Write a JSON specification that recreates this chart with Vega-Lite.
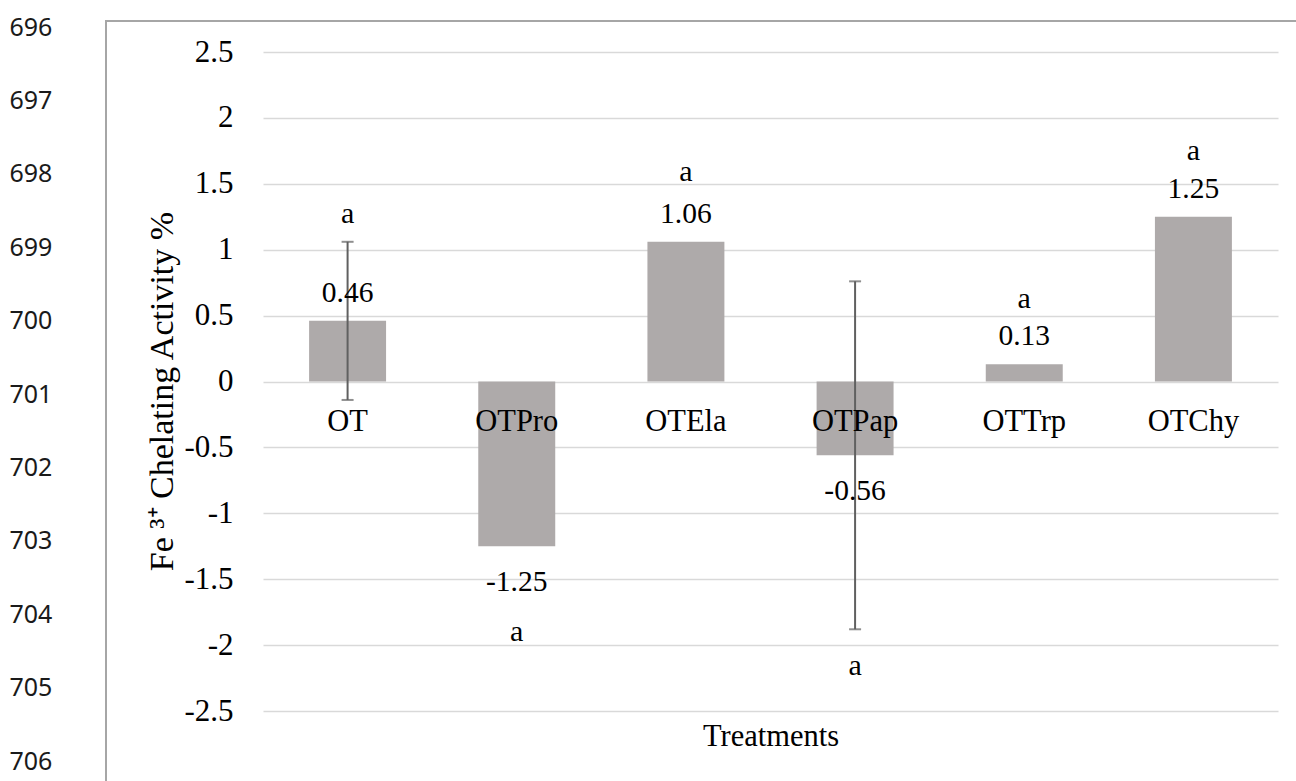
{
  "$schema": "https://vega.github.io/schema/vega-lite/v6.json",
  "width": 1196,
  "height": 766,
  "autosize": {"type": "none"},
  "padding": {"left": 106, "top": 21, "right": -6, "bottom": -6},
  "background": "white",
  "config": {
    "view": {"stroke": "#a6a6a6", "strokeWidth": 2},
    "font": "Liberation Serif",
    "text": {"font": "Liberation Serif", "fontSize": 30, "color": "#000000"}
  },
  "datasets": {
    "bars": [
      {"treatment": "OT", "value": 0.46, "lo": -0.14, "hi": 1.06, "letter": "a", "letter_pos": 1.2},
      {"treatment": "OTPro", "value": -1.25, "letter": "a", "letter_pos": -1.97},
      {"treatment": "OTEla", "value": 1.06, "letter": "a", "letter_pos": 1.52},
      {"treatment": "OTPap", "value": -0.56, "lo": -1.88, "hi": 0.76, "letter": "a", "letter_pos": -2.23},
      {"treatment": "OTTrp", "value": 0.13, "letter": "a", "letter_pos": 0.56},
      {"treatment": "OTChy", "value": 1.25, "letter": "a", "letter_pos": 1.68}
    ],
    "lines": [
      {"line": "696"}, {"line": "697"}, {"line": "698"}, {"line": "699"}, {"line": "700"},
      {"line": "701"}, {"line": "702"}, {"line": "703"}, {"line": "704"}, {"line": "705"}, {"line": "706"}
    ]
  },
  "layer": [
    {
      "data": {"name": "bars"},
      "encoding": {
        "x": {
          "field": "treatment",
          "type": "nominal",
          "sort": null,
          "scale": {"type": "band", "range": [157, 1172], "paddingInner": 0.545, "paddingOuter": 0.2725},
          "axis": {
            "orient": "bottom",
            "offset": -405.5,
            "domain": false,
            "ticks": false,
            "tickSize": 0,
            "grid": false,
            "labelAngle": 0,
            "labelBaseline": "alphabetic",
            "labelPadding": 48.5,
            "labelFont": "Liberation Serif",
            "labelFontSize": 30.5,
            "labelColor": "#000000",
            "labelOverlap": false,
            "labelLimit": 0,
            "title": "Treatments",
            "titleFont": "Liberation Serif",
            "titleFontSize": 30.5,
            "titleFontWeight": "normal",
            "titleColor": "#000000",
            "titleBaseline": "alphabetic",
            "titleY": 363.5,
            "zindex": 1
          }
        }
      },
      "layer": [
        {
          "mark": {"type": "bar", "color": "#AEAAAA"},
          "encoding": {
            "y": {
              "field": "value",
              "type": "quantitative",
              "scale": {"domain": [-2.5, 2.5], "range": [690, 31], "nice": false, "zero": false},
              "axis": {
                "orient": "left",
                "offset": -127,
                "values": [-2.5, -2, -1.5, -1, -0.5, 0, 0.5, 1, 1.5, 2, 2.5],
                "labelExpr": "datum.value + ''",
                "grid": true,
                "gridColor": "#d9d9d9",
                "gridWidth": 1.5,
                "domain": false,
                "ticks": false,
                "tickSize": 0,
                "labelPadding": 0,
                "labelAlign": "right",
                "labelBaseline": "middle",
                "labelFont": "Liberation Serif",
                "labelFontSize": 31,
                "labelColor": "#000000",
                "labelOverlap": false,
                "title": "Fe ³⁺ Chelating Activity %",
                "titleFont": "Liberation Serif",
                "titleFontSize": 34,
                "titleFontWeight": "normal",
                "titleColor": "#000000",
                "titleAngle": 270,
                "titleAlign": "center",
                "titleBaseline": "alphabetic",
                "titleX": -61,
                "titleY": 370
              }
            },
            "y2": {"datum": 0}
          }
        },
        {
          "transform": [{"filter": "isValid(datum.lo)"}],
          "mark": {"type": "rule", "color": "#606060", "strokeWidth": 2},
          "encoding": {
            "y": {"field": "lo", "type": "quantitative"},
            "y2": {"field": "hi"}
          }
        },
        {
          "transform": [{"filter": "isValid(datum.lo)"}],
          "mark": {"type": "tick", "color": "#606060", "size": 12, "thickness": 2, "orient": "horizontal"},
          "encoding": {"y": {"field": "lo", "type": "quantitative"}}
        },
        {
          "transform": [{"filter": "isValid(datum.hi)"}],
          "mark": {"type": "tick", "color": "#606060", "size": 12, "thickness": 2, "orient": "horizontal"},
          "encoding": {"y": {"field": "hi", "type": "quantitative"}}
        },
        {
          "transform": [{"filter": "datum.value > 0"}],
          "mark": {"type": "text", "baseline": "alphabetic", "dy": -19, "fontSize": 29.5},
          "encoding": {
            "y": {"field": "value", "type": "quantitative"},
            "text": {"field": "value", "type": "nominal"}
          }
        },
        {
          "transform": [{"filter": "datum.value < 0"}],
          "mark": {"type": "text", "baseline": "alphabetic", "dy": 45, "fontSize": 29.5},
          "encoding": {
            "y": {"field": "value", "type": "quantitative"},
            "text": {"field": "value", "type": "nominal"}
          }
        },
        {
          "mark": {"type": "text", "baseline": "alphabetic", "fontSize": 30},
          "encoding": {
            "y": {"field": "letter_pos", "type": "quantitative"},
            "text": {"field": "letter", "type": "nominal"}
          }
        }
      ]
    },
    {
      "data": {"name": "lines"},
      "mark": {"type": "point", "opacity": 0},
      "encoding": {
        "y": {
          "field": "line",
          "type": "ordinal",
          "sort": null,
          "scale": {"type": "point", "range": [6, 740], "padding": 0},
          "axis": {
            "orient": "left",
            "title": null,
            "domain": false,
            "ticks": false,
            "tickSize": 0,
            "grid": false,
            "labelAlign": "left",
            "labelBaseline": "middle",
            "labelPadding": 97,
            "labelFont": "Noto Sans",
            "labelFontSize": 25,
            "labelColor": "#1a1a1a",
            "labelOverlap": false
          }
        }
      }
    }
  ],
  "resolve": {"scale": {"y": "independent"}, "axis": {"y": "independent"}}
}
